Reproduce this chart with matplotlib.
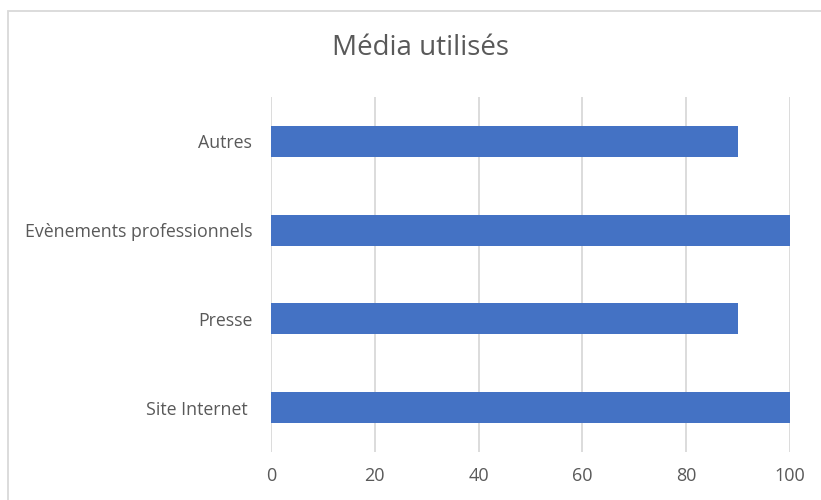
import matplotlib.pyplot as plt
from matplotlib.patches import Rectangle

# Données
categories = ['Site Internet ', 'Presse', 'Evènements professionnels', 'Autres']
valeurs = [100, 90, 100, 90]
ticks = [0, 20, 40, 60, 80, 100]

plt.rcParams['font.family'] = ['Open Sans', 'DejaVu Sans']

fig = plt.figure(figsize=(8.21, 5), dpi=100)
ax = fig.add_axes([271 / 821, 1 - 452 / 500, (790 - 271) / 821, (452 - 97) / 500])

ax.barh(range(len(categories)), valeurs, height=0.35, color='#4472C4', zorder=3)

ax.set_xlim(0, 100)
ax.set_ylim(-0.5, len(categories) - 0.5)
ax.set_xticks(ticks)
ax.set_yticks(range(len(categories)))
ax.set_yticklabels(categories)
ax.grid(axis='x', color='#D9D9D9', linewidth=1.3, zorder=0)
for s in ax.spines.values():
    s.set_visible(False)
ax.tick_params(length=0, labelcolor='#595959')
ax.tick_params(axis='x', pad=11, labelsize=13)
ax.tick_params(axis='y', pad=13.5, labelsize=12.8)

fig.text(420 / 821, 1 - 48 / 500, 'Média utilisés', ha='center', va='center',
         fontsize=20, color='#595959')

# Cadre du graphique
fig.patches.append(Rectangle((8 / 821, -0.1), 1, 1.1 - 11 / 500, transform=fig.transFigure,
                             fill=False, edgecolor='#D9D9D9', linewidth=1.3))

fig.savefig('out.png', dpi=100)
